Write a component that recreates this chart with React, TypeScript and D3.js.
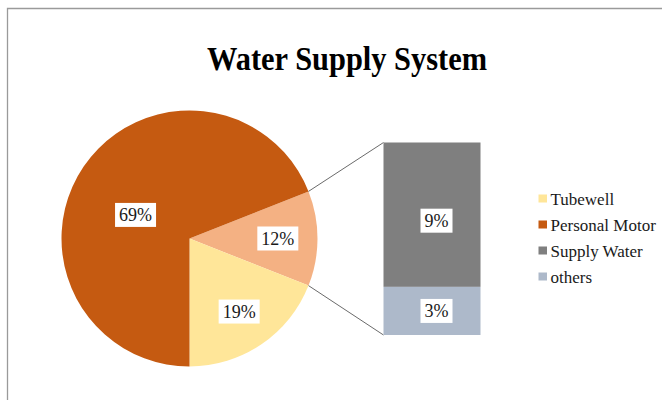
import React from "react";
import * as d3 from "d3";

const title = "Water Supply System";
const pieCategories = ["Tubewell", "Personal Motor"];
const pieValues = [19, 69];
const barCategories = ["Supply Water", "others"];
const barValues = [9, 3];
const legendLabels = ["Tubewell", "Personal Motor", "Supply Water", "others"];

const COLORS: Record<string, string> = {
  Tubewell: "#FFE699",
  "Personal Motor": "#C55A11",
  "Supply Water": "#7F7F7F",
  others: "#ADB9CA",
  Other: "#F4B183",
};

const W = 662;
const H = 400;
const cx = 189.5;
const cy = 238.5;
const R = 128;
const FONT = "Liberation Serif, Times New Roman, serif";

function LabelBox({ x, y, text, w = 41, h = 24 }: { x: number; y: number; text: string; w?: number; h?: number }) {
  return (
    <g>
      <rect x={x - w / 2} y={y - h / 2} width={w} height={h} fill="#fff" />
      <text x={x} y={y + 6} textAnchor="middle" style={{ fontFamily: FONT, fontSize: "18px" }} fill="#1a1a1a">
        {text}
      </text>
    </g>
  );
}

export default function App() {
  const otherTotal = d3.sum(barValues);
  const total = d3.sum(pieValues) + otherTotal;
  const pieData = [
    { name: "Other", value: otherTotal },
    ...pieCategories.map((c, i) => ({ name: c, value: pieValues[i] })),
  ];
  const startAngle = Math.PI / 2 - (otherTotal / total) * Math.PI;
  const pie = d3
    .pie<{ name: string; value: number }>()
    .sort(null)
    .value((d) => d.value)
    .startAngle(startAngle)
    .endAngle(startAngle + 2 * Math.PI);
  const arcs = pie(pieData);
  const arcGen = d3.arc<d3.PieArcDatum<{ name: string; value: number }>>().innerRadius(0).outerRadius(R);

  // bar of pie
  const barX0 = 383.5;
  const barX1 = 480.5;
  const barTop = 142.5;
  const barBottom = 335;
  const y = d3.scaleLinear().domain([0, otherTotal]).range([barBottom, barTop]);
  let acc = otherTotal;
  const barSegs = barCategories.map((c, i) => {
    const top = acc;
    acc -= barValues[i];
    return { name: c, value: barValues[i], y0: y(top), y1: y(acc) };
  });

  const otherArc = arcs[0];
  const p1 = [cx + Math.sin(otherArc.startAngle) * R, cy - Math.cos(otherArc.startAngle) * R];
  const p2 = [cx + Math.sin(otherArc.endAngle) * R, cy - Math.cos(otherArc.endAngle) * R];

  const pct = (v: number) => `${Math.round((v / total) * 100)}%`;

  // label placement (Excel-like)
  const labelPos = (a: d3.PieArcDatum<{ name: string; value: number }>) => {
    const mid = (a.startAngle + a.endAngle) / 2;
    let r = 0.69 * R;
    let ang = mid;
    if (a.data.name === "Personal Motor") {
      r = 0.46 * R;
      ang = mid - (10.6 * Math.PI) / 180;
    }
    return [cx + Math.sin(ang) * r, cy - Math.cos(ang) * r];
  };

  const legendX = 538.5;
  const legendY0 = 198.5;
  const legendStep = 26;

  return (
    <svg width={W} height={H} style={{ position: "absolute", left: 0, top: 0, background: "#fff" }}>
      <rect x={0} y={0} width={W} height={H} fill="#fff" />
      <path d={`M7.5,${H} L7.5,8.5 L${W},8.5`} fill="none" stroke="#9a9a9a" strokeWidth={1.3} />
      <text
        x={347}
        y={69.5}
        textAnchor="middle"
        style={{ fontFamily: FONT, fontWeight: "bold", fontSize: "34px" }}
        textLength={280}
        lengthAdjust="spacingAndGlyphs"
        fill="#000"
      >
        {title}
      </text>

      <g transform={`translate(${cx},${cy})`}>
        {arcs.map((a) => (
          <path key={a.data.name} d={arcGen(a) || ""} fill={COLORS[a.data.name]} />
        ))}
      </g>

      <line x1={p1[0]} y1={p1[1]} x2={barX0} y2={barTop} stroke="#595959" strokeWidth={0.9} />
      <line x1={p2[0]} y1={p2[1]} x2={barX0} y2={barBottom} stroke="#595959" strokeWidth={0.9} />

      {barSegs.map((s) => (
        <rect key={s.name} x={barX0} y={s.y0} width={barX1 - barX0} height={s.y1 - s.y0} fill={COLORS[s.name]} />
      ))}

      {arcs.map((a) => {
        const [lx, ly] = labelPos(a);
        return <LabelBox key={a.data.name} x={lx} y={ly} text={pct(a.data.value)} />;
      })}

      {barSegs.map((s, i) => (
        <LabelBox
          key={s.name}
          x={(barX0 + barX1) / 2 + 4.5}
          y={(s.y0 + s.y1) / 2 + (i === 0 ? 6 : 0)}
          text={pct(s.value)}
          w={32}
          h={24}
        />
      ))}

      {legendLabels.map((l, i) => (
        <g key={l} transform={`translate(${legendX},${legendY0 + i * legendStep})`}>
          <rect x={0} y={-4} width={8.5} height={8} fill={COLORS[l]} />
          <text x={12} y={6} style={{ fontFamily: FONT, fontSize: "17px" }} fill="#1a1a1a">
            {l}
          </text>
        </g>
      ))}
    </svg>
  );
}
